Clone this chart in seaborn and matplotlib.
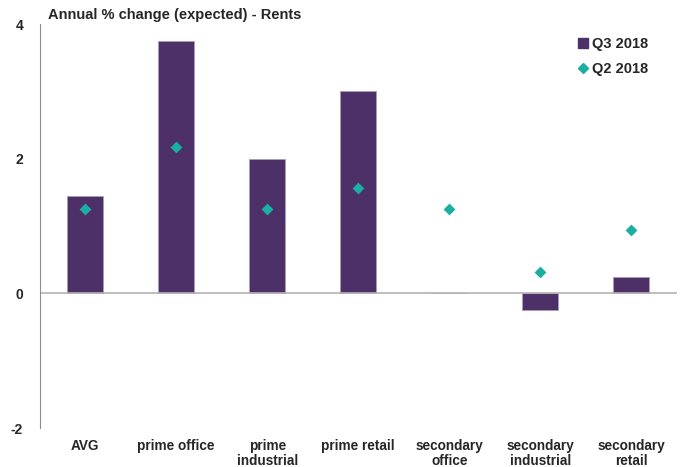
import pandas as pd
import matplotlib.pyplot as plt
from matplotlib.lines import Line2D
import seaborn as sns

# Data
categories = ['AVG', 'prime office', 'prime\nindustrial', 'prime retail',
              'secondary\noffice', 'secondary\nindustrial', 'secondary\nretail']
q3_2018 = [1.45, 3.75, 2.0, 3.0, 0.0, -0.25, 0.25]
q2_2018 = [1.25, 2.18, 1.25, 1.57, 1.25, 0.31, 0.94]
y_ticks = [-2, 0, 2, 4]

purple = '#4E3068'
teal = '#1AAFA3'

df = pd.DataFrame({'category': categories, 'Q3 2018': q3_2018, 'Q2 2018': q2_2018})

sns.set_style('white')
plt.rcParams['font.family'] = ['Liberation Sans', 'DejaVu Sans']

fig = plt.figure(figsize=(6.85, 4.67), dpi=100)
ax = fig.add_axes([0.058, 0.0835, 0.93, 0.865])

sns.barplot(data=df, x='category', y='Q3 2018', color=purple, width=0.4,
            edgecolor='#a99cb8', linewidth=0.6, saturation=1, ax=ax)
sns.stripplot(data=df, x='category', y='Q2 2018', color=teal, marker='D',
              size=6, jitter=False, linewidth=0, ax=ax, zorder=3)

ax.set_ylim(-2, 4)
ax.set_xlim(-0.5, len(categories) - 0.5)
ax.set_yticks(y_ticks)
ax.set_yticklabels([str(t) for t in y_ticks], fontsize=10, fontweight='bold')
ax.set_xticks(range(len(categories)))
ax.set_xticklabels(categories, fontsize=9.8, fontweight='bold', linespacing=1.05)
ax.tick_params(axis='both', length=0)
ax.tick_params(axis='x', pad=8)
ax.tick_params(axis='y', pad=12)
ax.set_xlabel('')
ax.set_ylabel('')

ax.axhline(0, color='#b3b3b3', linewidth=1.2, zorder=1)
for side in ['top', 'right', 'bottom']:
    ax.spines[side].set_visible(False)
ax.spines['left'].set_color('#8c8c8c')
ax.spines['left'].set_linewidth(0.8)

fig.text(0.07, 0.968, 'Annual % change (expected) - Rents', fontsize=10.5,
         fontweight='bold', va='center', ha='left')

handles = [
    Line2D([], [], marker='s', color=purple, linestyle='none', markersize=6.5),
    Line2D([], [], marker='D', color=teal, linestyle='none', markersize=5),
]
ax.legend(handles, ['Q3 2018', 'Q2 2018'], loc='upper right',
          bbox_to_anchor=(0.975, 1.0), frameon=False, handletextpad=0.1,
          handlelength=1.0, labelspacing=0.75, prop={'weight': 'bold', 'size': 10.5})

fig.savefig('out.png', dpi=100)
